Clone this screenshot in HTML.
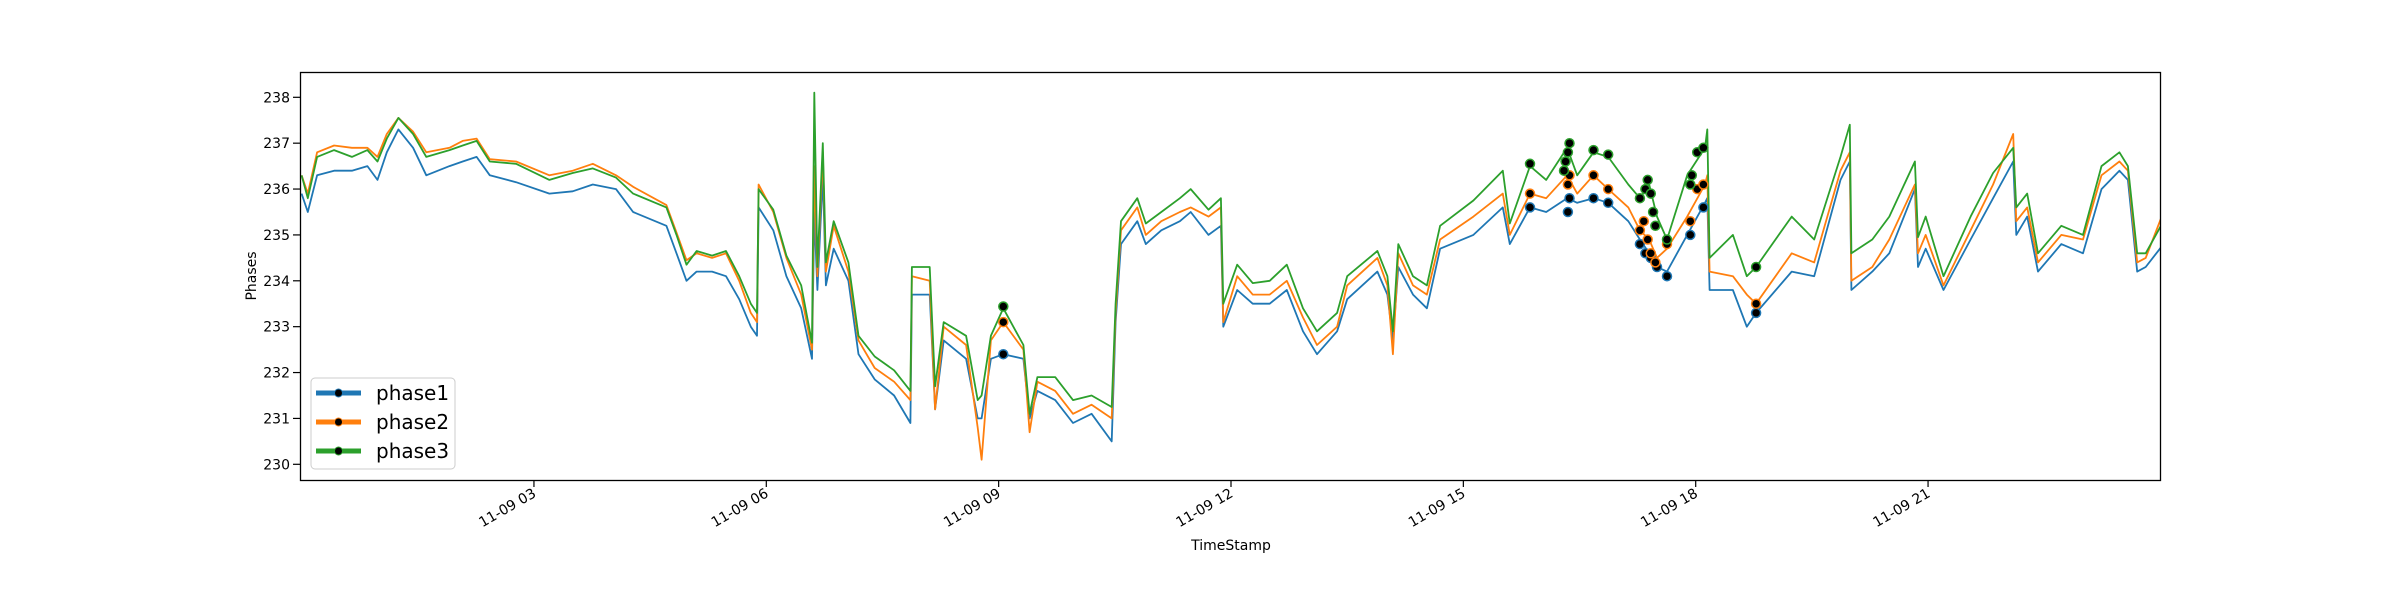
<!DOCTYPE html>
<html><head><meta charset="utf-8"><style>
html,body{margin:0;padding:0;background:#fff;}
svg{display:block;font-family:"DejaVu Sans","Liberation Sans",sans-serif;}
</style></head><body>
<svg id="chart" width="2400" height="600" viewBox="0 0 2400 600" xmlns="http://www.w3.org/2000/svg">
<defs><clipPath id="plotclip"><rect x="301" y="72" width="1859" height="408"/></clipPath></defs>
<rect x="0" y="0" width="2400" height="600" fill="#fff"/>
<g id="series" clip-path="url(#plotclip)"></g>
<g id="dots" clip-path="url(#plotclip)"></g>
<rect x="300.5" y="72.5" width="1860" height="408" fill="none" stroke="#000" stroke-width="1.3"/>
<g id="yaxis"></g>
<g id="xaxis"></g>
<text x="0" y="0" transform="translate(256,276) rotate(-90)" text-anchor="middle" font-size="14">Phases</text>
<text x="1231" y="550" text-anchor="middle" font-size="14">TimeStamp</text>
<g>
<rect x="311" y="378" width="144" height="91" rx="4" fill="#fff" fill-opacity="0.8" stroke="#ccc" stroke-width="1"/>
<g>
<line x1="316" y1="393" x2="361" y2="393" stroke="#1f77b4" stroke-width="5"/><circle cx="338.5" cy="393" r="4" fill="#000" stroke="#1f77b4" stroke-width="1"/>
<text x="376" y="400" font-size="20">phase1</text></g>
<g>
<line x1="316" y1="422" x2="361" y2="422" stroke="#ff7f0e" stroke-width="5"/><circle cx="338.5" cy="422" r="4" fill="#000" stroke="#ff7f0e" stroke-width="1"/>
<text x="376" y="429" font-size="20">phase2</text></g>
<g>
<line x1="316" y1="451" x2="361" y2="451" stroke="#2ca02c" stroke-width="5"/><circle cx="338.5" cy="451" r="4" fill="#000" stroke="#2ca02c" stroke-width="1"/>
<text x="376" y="458" font-size="20">phase3</text></g>
</g>
</svg>
<script>
const hours = [0,0.08,0.2,0.42,0.65,0.85,0.98,1.1,1.25,1.44,1.61,1.91,2.08,2.26,2.43,2.77,3.2,3.5,3.76,4.06,4.28,4.71,4.84,4.97,5.1,5.3,5.48,5.65,5.8,5.88,5.9,6.09,6.26,6.45,6.59,6.62,6.66,6.73,6.77,6.87,7.06,7.19,7.4,7.65,7.86,7.88,8.11,8.18,8.29,8.58,8.73,8.78,8.9,9.06,9.32,9.4,9.5,9.73,9.96,10.2,10.46,10.51,10.58,10.79,10.9,11.1,11.34,11.48,11.71,11.87,11.9,12.08,12.28,12.5,12.72,12.93,13.11,13.37,13.5,13.89,14.02,14.09,14.16,14.35,14.53,14.7,15.13,15.51,15.6,15.86,16.07,16.34,16.47,16.68,16.87,17.13,17.28,17.4,17.5,17.63,17.89,18.12,18.15,18.18,18.48,18.66,18.78,19.24,19.53,19.87,19.99,20.01,20.28,20.5,20.83,20.87,20.97,21.2,21.55,21.84,22.1,22.14,22.28,22.42,22.72,23,23.24,23.47,23.58,23.7,23.81,24.04];
const phase3 = [236.3,235.8,236.7,236.85,236.7,236.85,236.6,237.1,237.55,237.2,236.7,236.85,236.95,237.05,236.6,236.55,236.2,236.35,236.45,236.25,235.9,235.6,235.0,234.35,234.65,234.55,234.65,234.1,233.5,233.3,236.0,235.55,234.55,233.9,232.65,238.1,234.3,237.0,234.4,235.3,234.4,232.8,232.35,232.05,231.6,234.3,234.3,231.7,233.1,232.8,231.4,231.5,232.8,233.4,232.6,231.1,231.9,231.9,231.4,231.5,231.25,233.5,235.3,235.8,235.25,235.5,235.8,236.0,235.55,235.8,233.5,234.35,233.95,234.0,234.35,233.4,232.9,233.3,234.1,234.65,234.1,232.9,234.8,234.1,233.9,235.2,235.75,236.4,235.25,236.5,236.2,236.9,236.3,236.8,236.7,236.1,235.8,236.1,235.4,234.9,236.3,236.9,237.3,234.5,235.0,234.1,234.3,235.4,234.9,236.7,237.4,234.6,234.9,235.4,236.6,234.95,235.4,234.1,235.4,236.35,236.9,235.6,235.9,234.6,235.2,235.0,236.5,236.8,236.5,234.6,234.6,235.3];
const phase2 = [236.3,235.9,236.8,236.95,236.9,236.9,236.7,237.2,237.55,237.25,236.8,236.9,237.05,237.1,236.65,236.6,236.3,236.4,236.55,236.3,236.05,235.65,235.05,234.45,234.6,234.5,234.6,234.0,233.3,233.1,236.1,235.5,234.5,233.7,232.5,236.5,234.1,236.8,234.2,235.2,234.2,232.7,232.1,231.8,231.4,234.1,234.0,231.2,233.0,232.6,230.8,230.1,232.7,233.1,232.5,230.7,231.8,231.6,231.1,231.3,231.0,233.3,235.1,235.6,235.0,235.3,235.5,235.6,235.4,235.6,233.1,234.1,233.7,233.7,234.0,233.2,232.6,233.0,233.9,234.5,233.9,232.4,234.6,233.9,233.7,234.9,235.4,235.9,235.0,235.9,235.8,236.3,235.9,236.3,236.0,235.6,235.1,234.9,234.5,234.7,235.4,236.1,236.3,234.2,234.1,233.7,233.5,234.6,234.4,236.4,236.8,234.0,234.3,234.9,236.1,234.6,235.0,233.9,235.1,236.1,237.2,235.3,235.6,234.4,235.0,234.9,236.3,236.6,236.4,234.4,234.5,235.5];
const phase1 = [235.9,235.5,236.3,236.4,236.4,236.5,236.2,236.8,237.3,236.9,236.3,236.5,236.6,236.7,236.3,236.15,235.9,235.95,236.1,236.0,235.5,235.2,234.6,234.0,234.2,234.2,234.1,233.6,233.0,232.8,235.6,235.1,234.1,233.4,232.3,235.5,233.8,236.3,233.9,234.7,234.0,232.4,231.85,231.5,230.9,233.7,233.7,231.2,232.7,232.3,231.0,231.0,232.3,232.4,232.3,231.0,231.6,231.4,230.9,231.1,230.5,233.1,234.8,235.3,234.8,235.1,235.3,235.5,235.0,235.2,233.0,233.8,233.5,233.5,233.8,232.9,232.4,232.9,233.6,234.2,233.7,232.7,234.3,233.7,233.4,234.7,235.0,235.6,234.8,235.6,235.5,235.8,235.7,235.8,235.7,235.3,234.9,234.6,234.3,234.2,235.0,235.7,235.8,233.8,233.8,233.0,233.3,234.2,234.1,236.2,236.6,233.8,234.2,234.6,236.0,234.3,234.7,233.8,234.9,235.8,236.6,235.0,235.4,234.2,234.8,234.6,236.0,236.4,236.2,234.2,234.3,234.8];
const dotHours3 = [9.06,15.86,16.3,16.32,16.35,16.37,16.68,16.87,17.28,17.35,17.38,17.42,17.45,17.48,17.63,17.93,17.95,18.02,18.1,18.78];
const dotVals3 = [233.44,236.55,236.4,236.6,236.8,237.0,236.85,236.75,235.8,236.0,236.2,235.9,235.5,235.2,234.9,236.1,236.3,236.8,236.9,234.3];
const dotHours2 = [9.06,15.86,16.35,16.37,16.68,16.87,17.28,17.33,17.38,17.42,17.48,17.63,17.93,18.02,18.1,18.78];
const dotVals2 = [233.1,235.9,236.1,236.3,236.3,236.0,235.1,235.3,234.9,234.6,234.4,234.8,235.3,236.0,236.1,233.5];
const dotHours1 = [9.06,15.86,16.35,16.37,16.68,16.87,17.28,17.35,17.42,17.5,17.63,17.93,18.1,18.78];
const dotVals1 = [232.4,235.6,235.5,235.8,235.8,235.7,234.8,234.6,234.5,234.3,234.1,235.0,235.6,233.3];
const yTicks = [230,231,232,233,234,235,236,237,238];
const xTickHours = [3,6,9,12,15,18,21];
const xTickLabels = ["11-09 03","11-09 06","11-09 09","11-09 12","11-09 15","11-09 18","11-09 21"];

const NS = "http://www.w3.org/2000/svg";
function xs(h){ return 301.6 + h*77.45; }
function ys(v){ return 97.3 + (238 - v)*45.875; }
function mk(tag, attrs){ const e=document.createElementNS(NS,tag); for(const k in attrs) e.setAttribute(k,attrs[k]); return e; }

const sg = document.getElementById('series');
function drawLine(vals, color, name){
  const d = vals.map((v,i)=>(i?'L':'M')+xs(hours[i]).toFixed(1)+','+ys(v).toFixed(1)).join('');
  const p = mk('path',{d:d,fill:'none',stroke:color,'stroke-width':'1.8','stroke-linejoin':'round'});
  
  
  sg.appendChild(p);
}
drawLine(phase1,'#1f77b4','phase1-line');
drawLine(phase2,'#ff7f0e','phase2-line');
drawLine(phase3,'#2ca02c','phase3-line');

const dg = document.getElementById('dots');
function drawDots(hs, vs, color, name){
  hs.forEach((h,i)=>{
    const c = mk('circle',{cx:xs(h).toFixed(1),cy:ys(vs[i]).toFixed(1),r:'4.5',fill:'#000',stroke:color,'stroke-width':'1.5'});
    
    
    dg.appendChild(c);
  });
}
drawDots(dotHours1,dotVals1,'#1f77b4','phase1-anomaly-point');
drawDots(dotHours2,dotVals2,'#ff7f0e','phase2-anomaly-point');
drawDots(dotHours3,dotVals3,'#2ca02c','phase3-anomaly-point');

const ya = document.getElementById('yaxis');
yTicks.forEach(v=>{
  const y = ys(v);
  const t = mk('line',{x1:293,x2:300,y1:y,y2:y,stroke:'#000','stroke-width':'1.2'});
  
  
  ya.appendChild(t);
  const l = mk('text',{x:290,y:y+5,'text-anchor':'end','font-size':'14'});
  l.textContent = String(v);
  
  
  ya.appendChild(l);
});
const xa = document.getElementById('xaxis');
xTickHours.forEach((h,i)=>{
  const x = xs(h);
  const t = mk('line',{x1:x,x2:x,y1:480,y2:487,stroke:'#000','stroke-width':'1.2'});
  
  
  xa.appendChild(t);
  const l = mk('text',{x:x+3,y:496,'text-anchor':'end','font-size':'14',transform:'rotate(-30 '+(x+3)+' 496)'});
  l.textContent = xTickLabels[i];
  
  
  xa.appendChild(l);
});
</script>
</body></html>
